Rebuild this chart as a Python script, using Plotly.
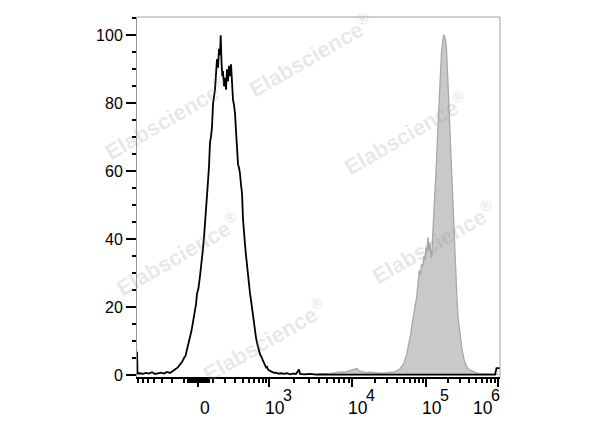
import numpy as np
import plotly.graph_objects as go

# ---------------- data (x in display channels 0..1000 of a biexponential axis) ----------------
BLACK_X = [0, 1.5, 8.3, 16.5, 24.8, 33.1, 41.3, 49.6, 57.9, 66.1, 74.4, 82.7, 90.9, 96.4, 101.9,
           107.4, 113.0, 118.5, 124.0, 129.5, 133.6, 137.8, 141.9, 146.0, 150.1, 154.3, 158.4,
           162.5, 165.3, 169.4, 173.6, 176.3, 179.1, 181.8, 184.6, 187.3, 190.1, 192.9, 195.6,
           198.4, 201.1, 203.9, 206.6, 209.4, 212.1, 214.9, 217.6, 220.4, 223.2, 225.9, 228.7,
           230.6, 232.8, 235.0, 236.9, 239.7, 242.4, 245.2, 248.0, 250.7, 253.5, 256.2, 259.0,
           261.7, 264.5, 267.2, 270.0, 272.7, 275.5, 278.3, 281.0, 283.8, 286.5, 289.3, 292.0,
           294.8, 297.5, 300.3, 303.1, 305.8, 308.6, 311.3, 314.1, 316.8, 319.6, 322.3, 325.1,
           327.8, 330.6, 333.4, 336.1, 338.9, 341.6, 344.4, 347.1, 349.9, 352.6, 355.4, 358.2,
           360.9, 366.4, 371.9, 377.4, 382.9, 388.5, 396.7, 405.0, 413.3, 421.5, 429.8, 438.0,
           446.3, 449.1, 460.1, 476.6, 493.1, 509.7, 531.7, 559.3, 586.8, 614.4, 669.5, 724.6,
           779.7, 834.8, 889.9, 945.0, 986.3, 990.4, 998.7]
BLACK_Y = [6.8, 0.4, 0.5, 0.3, 0.6, 0.4, 0.8, 0.3, 0.5, 0.7, 0.4, 0.9, 0.6, 1.0, 1.2,
           1.8, 2.3, 2.9, 3.8, 5.0, 5.6, 7.5, 9.0, 11.2, 13.0, 15.5, 17.4,
           20.8, 23.9, 25.6, 29.2, 31.5, 35.0, 37.2, 40.5, 44.0, 49.5, 52.8, 57.0,
           61.5, 68.5, 70.2, 73.0, 79.8, 81.5, 84.0, 88.5, 93.0, 90.5, 96.0, 94.2,
           100.0, 92.0, 88.0, 89.5, 85.0, 87.5, 84.0, 90.0, 86.5, 91.0, 88.0, 91.5,
           83.5, 81.0, 79.5, 77.0, 72.0, 65.5, 62.0, 61.0, 59.2, 56.0, 53.5, 46.0,
           43.2, 38.5, 35.2, 32.0, 29.0, 26.2, 24.0, 22.0, 19.5, 17.2, 14.8, 12.5,
           11.0, 9.5, 8.0, 7.2, 6.0, 5.6, 4.8, 4.0, 3.2, 3.0, 2.2, 2.4,
           1.6, 1.2, 0.9, 0.6, 0.7, 0.4, 0.5, 0.3, 0.5, 0.2, 0.4, 0.3,
           1.6, 0.3, 0.2, 0.3, 0.1, 0.2, 0.1, 0.2, 0.1, 0.1, 0.1, 0.1,
           0.1, 0.1, 0.1, 0.1, 0.1, 2.0, 2.0]

GRAY_X = [462.8, 484.9, 504.2, 517.9, 531.7, 545.5, 559.3, 570.3, 581.3, 592.3, 600.6, 606.1,
          611.6, 619.9, 630.9, 641.9, 655.7, 669.5, 683.2, 697.0, 708.0, 716.3, 724.6, 730.1,
          735.6, 743.0, 748.0, 754.0, 757.6, 761.2, 765.9, 770.6, 774.2, 777.7, 781.0, 783.8,
          787.1, 790.7, 793.4, 796.2, 798.9, 801.7, 804.5, 807.2, 810.0, 811.9, 814.1, 816.3,
          819.6, 822.4, 825.1, 827.9, 830.6, 833.4, 836.1, 838.9, 841.7, 844.4, 847.2, 849.9,
          852.7, 855.4, 858.2, 860.9, 863.7, 866.5, 869.2, 872.0, 874.7, 877.5, 880.8, 884.4,
          889.9, 895.4, 900.9, 906.4, 911.9, 917.4, 925.7, 933.9, 945.0, 958.7, 972.5, 986.3,
          994.6]
GRAY_Y = [0.1, 0.2, 0.3, 0.5, 0.4, 0.7, 0.9, 0.8, 1.1, 1.3, 1.7, 1.9,
          1.2, 1.0, 0.7, 0.8, 0.6, 0.5, 0.6, 0.7, 0.9, 1.2, 1.8, 2.6,
          3.6, 6.2, 8.6, 12.0, 14.8, 17.8, 20.2, 23.0, 27.5, 30.8, 29.5, 32.6,
          32.0, 35.0, 33.8, 37.5, 36.2, 40.5, 37.0, 38.8, 35.2, 34.5, 40.0, 44.0,
          50.0, 56.0, 63.0, 70.0, 78.0, 84.0, 89.0, 95.0, 99.0, 100.0, 99.8, 98.5,
          96.0, 89.0, 82.0, 73.0, 64.0, 57.0, 49.0, 42.0, 35.0, 29.0, 24.0, 17.0,
          11.5, 7.5, 4.5, 2.8, 1.8, 1.5, 0.9, 0.6, 0.4, 0.3, 0.3, 0.2,
          0.2]

# axis definition (biexponential display)
DECADE_VALUES = [0, 1e3, 1e4, 1e5, 1e6]
DECADE_CHANNELS = [169.4, 364.5, 593.2, 796.2, 994.6]
DECADE_BASES = ["0", "10", "10", "10", "10"]
DECADE_EXPONENTS = ["", "3", "4", "5", "6"]
COFACTOR = 200.0
Y_TICKS = [0, 20, 40, 60, 80, 100]

WATERMARK = "Elabscience<sup>®</sup>"
WATERMARK_POS = [(0.478, 0.895), (0.081, 0.719), (0.740, 0.679),
                 (0.817, 0.376), (0.112, 0.343), (0.351, 0.103)]


def to_channel(v):
    v = np.asarray(v, dtype=float)
    t = np.arcsinh(v / COFACTOR) / np.log(10)
    ta = np.arcsinh(np.array(DECADE_VALUES) / COFACTOR) / np.log(10)
    ch = np.interp(t, ta, DECADE_CHANNELS)
    slope = (DECADE_CHANNELS[1] - DECADE_CHANNELS[0]) / (ta[1] - ta[0])
    return np.where(t < 0, DECADE_CHANNELS[0] + slope * t, ch)


minor_vals = ([-m * 100 for m in range(1, 10)] + [-m * 10 for m in range(1, 8)] +
              [m * 10 for m in range(1, 8)] + [m * 100 for m in range(1, 10)])
for dec in (1e3, 1e4, 1e5):
    minor_vals += [m * dec for m in range(2, 10)]
minor_ch = [float(c) for c in to_channel(minor_vals) if 0 <= c <= 1000]
major_ch = [float(c) for c in to_channel(DECADE_VALUES)]

FONT = "Arial, Liberation Sans, sans-serif"

fig = go.Figure()
fig.add_trace(go.Scatter(x=GRAY_X, y=GRAY_Y, mode="lines", fill="tozeroy",
                         fillcolor="rgb(201,201,201)",
                         line=dict(color="rgb(168,168,168)", width=1.3),
                         showlegend=False, hoverinfo="skip"))
fig.add_trace(go.Scatter(x=BLACK_X, y=BLACK_Y, mode="lines",
                         line=dict(color="black", width=1.8),
                         showlegend=False, hoverinfo="skip"))

fig.update_layout(
    width=592, height=419,
    margin=dict(l=129, r=100, t=9, b=50),
    paper_bgcolor="white", plot_bgcolor="white",
    font=dict(family=FONT, color="black"),
    xaxis=dict(range=[0, 1000], showgrid=False, zeroline=False,
               showline=True, linecolor="black", linewidth=1.5,
               tickmode="array", tickvals=major_ch,
               ticks="outside", ticklen=8, tickwidth=2, tickcolor="black",
               showticklabels=False,
               minor=dict(tickmode="array", tickvals=minor_ch, ticks="outside",
                          ticklen=4, tickwidth=1.5, tickcolor="black", showgrid=False)),
    yaxis=dict(range=[-0.6, 105.4], showgrid=False, zeroline=False,
               showline=True, linecolor="rgb(150,150,150)", linewidth=1,
               tickmode="array", tickvals=Y_TICKS,
               ticks="outside", ticklen=10, tickwidth=2, tickcolor="black",
               tickfont=dict(size=16, family=FONT, color="black"),
               minor=dict(dtick=5, ticks="outside", ticklen=4, tickwidth=1.5,
                          tickcolor="black", showgrid=False)),
)

# frame (top & right)
fig.add_shape(type="line", xref="paper", yref="paper", x0=0, x1=1, y0=1, y1=1,
              line=dict(color="rgb(160,160,160)", width=1), layer="below")
fig.add_shape(type="line", xref="paper", yref="paper", x0=1, x1=1, y0=0, y1=1,
              line=dict(color="rgb(160,160,160)", width=1), layer="below")

# x tick labels: base + raised exponent
for i, (ch, base, expo) in enumerate(zip(major_ch, DECADE_BASES, DECADE_EXPONENTS)):
    last = i == len(major_ch) - 1
    if i == 0:
        bshift = 0
    elif last:
        bshift = -27
    else:
        bshift = -6
    fig.add_annotation(x=ch, y=-0.085, xref="x", yref="paper", text=base, showarrow=False,
                       xanchor="left", yanchor="middle", xshift=bshift,
                       font=dict(size=17.5, family=FONT, color="black"))
    if expo:
        fig.add_annotation(x=ch, y=-0.05, xref="x", yref="paper", text=expo, showarrow=False,
                           xanchor="left", yanchor="middle", xshift=bshift + 18,
                           font=dict(size=16, family=FONT, color="black"))

# watermarks
for (wx, wy) in WATERMARK_POS:
    fig.add_annotation(x=wx, y=wy, xref="paper", yref="paper", text="<b>" + WATERMARK + "</b>",
                       showarrow=False, textangle=-30, xanchor="center", yanchor="middle",
                       font=dict(size=22, family=FONT, color="rgba(150,150,150,0.24)"))

fig.write_html("out.html")
